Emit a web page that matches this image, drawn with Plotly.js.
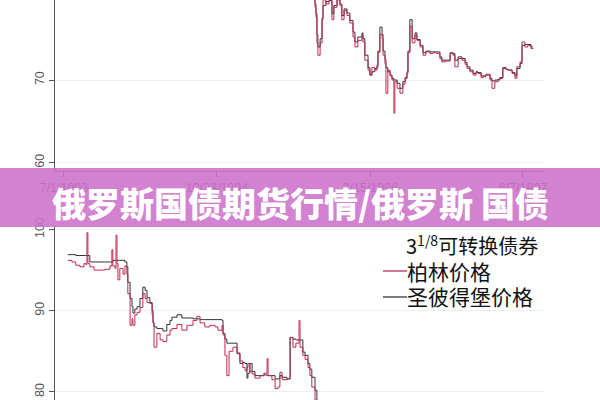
<!DOCTYPE html>
<html>
<head>
<meta charset="utf-8">
<script src="https://cdn.plot.ly/plotly-3.0.1.min.js"></script>
<style>html,body{margin:0;padding:0;background:#fff;overflow:hidden;}#chart{width:600px;height:403px;margin-top:-3px;}</style>
</head>
<body>
<div id="chart"></div>
<script>
// Bottom panel segment (1993-1995), values 80-100
const dates1 = ['1993-07-13','1993-07-26','1993-08-07','1993-08-20','1993-09-02','1993-09-08','1993-09-11','1993-09-14','1993-09-20','1993-10-03','1993-10-22','1993-11-06','1993-11-22','1993-11-28','1993-12-01','1993-12-08','1993-12-11','1993-12-14','1993-12-17','1993-12-23','1994-01-02','1994-01-08','1994-01-14','1994-01-17','1994-01-24','1994-01-30','1994-02-02','1994-02-08','1994-02-15','1994-02-24','1994-03-05','1994-03-12','1994-03-18','1994-03-27','1994-04-03','1994-04-06','1994-04-09','1994-04-18','1994-04-28','1994-05-07','1994-05-19','1994-05-29','1994-06-04','1994-06-20','1994-07-05','1994-07-21','1994-08-09','1994-08-21','1994-08-31','1994-09-15','1994-10-01','1994-10-17','1994-10-26','1994-11-08','1994-11-11','1994-11-17','1994-11-23','1994-11-30','1994-12-12','1994-12-25','1995-01-03','1995-01-12','1995-01-19','1995-01-25','1995-01-28','1995-02-03','1995-02-10','1995-02-19','1995-03-07','1995-03-19','1995-03-29','1995-04-01','1995-04-13','1995-04-23','1995-05-02','1995-05-08','1995-05-15','1995-05-30','1995-06-09','1995-06-18','1995-06-27','1995-07-07','1995-07-10','1995-07-19','1995-07-26','1995-08-04','1995-08-10','1995-08-16','1995-08-26','1995-09-01'];
const berlin1 = [96.2,96.0,95.6,95.4,95.8,95.7,99.6,95.8,95.4,95.0,95.0,95.1,95.5,97.5,95.5,95.2,99.3,95.8,93.8,95.2,94.5,95.5,94.5,92.1,88.2,89.0,88.2,89.5,89.8,90.4,92.1,91.5,91.0,90.9,89.5,88.5,85.5,87.2,86.4,86.2,87.0,87.6,87.8,88.3,87.6,88.2,88.8,89.3,88.5,88.0,88.2,88.0,87.6,88.2,87.0,84.5,82.0,85.0,85.5,84.8,83.8,83.0,82.6,83.0,83.5,82.5,82.2,81.7,82.0,82.3,84.1,82.0,81.5,80.4,80.6,82.4,81.5,81.6,86.7,85.5,86.0,88.8,85.5,84.5,84.0,83.0,82.0,80.6,79.0,78.0];
const stpete1 = [96.9,96.9,96.8,96.8,96.8,96.8,96.8,96.8,96.0,96.0,96.0,96.0,96.0,96.0,96.2,96.2,96.2,96.2,96.2,96.2,96.2,96.0,95.4,93.5,91.5,90.5,89.7,90.2,90.5,91.5,92.9,92.5,91.6,91.0,90.0,88.5,88.0,87.8,87.8,87.5,88.3,88.8,89.2,89.5,89.1,89.1,89.0,89.0,88.9,88.9,88.9,88.9,88.9,88.8,87.2,86.5,86.0,86.0,86.0,84.7,83.5,83.6,83.5,81.7,82.3,83.5,82.5,82.0,82.0,82.1,82.0,82.0,82.0,81.6,81.6,82.0,81.8,81.6,86.7,86.5,86.4,86.4,86.4,84.9,84.5,83.5,82.8,81.8,80.2,79.0];

// Top panel segment (1995-1997), values 60-80
const dates2 = ['1995-08-20','1995-08-26','1995-08-29','1995-09-01','1995-09-04','1995-09-11','1995-09-17','1995-09-20','1995-09-29','1995-10-09','1995-10-18','1995-10-24','1995-11-03','1995-11-12','1995-11-18','1995-11-25','1995-12-04','1995-12-13','1995-12-23','1995-12-29','1996-01-07','1996-01-20','1996-01-23','1996-01-29','1996-02-08','1996-02-14','1996-02-20','1996-02-29','1996-03-07','1996-03-10','1996-03-16','1996-03-23','1996-03-26','1996-04-01','1996-04-04','1996-04-10','1996-04-17','1996-04-23','1996-04-29','1996-05-02','1996-05-09','1996-05-18','1996-05-27','1996-06-03','1996-06-09','1996-06-12','1996-06-18','1996-06-25','1996-07-04','1996-07-10','1996-07-20','1996-07-29','1996-08-07','1996-08-20','1996-08-29','1996-09-11','1996-09-20','1996-09-26','1996-10-09','1996-10-22','1996-10-31','1996-11-06','1996-11-16','1996-11-28','1996-12-08','1996-12-14','1996-12-23','1997-01-02','1997-01-11','1997-01-17','1997-01-27','1997-02-02','1997-02-11','1997-02-24','1997-03-02','1997-03-11','1997-03-21','1997-03-27','1997-04-05','1997-04-15','1997-04-21','1997-05-04','1997-05-13','1997-05-19','1997-05-29','1997-06-04','1997-06-13','1997-06-22','1997-07-02','1997-07-08'];
const berlin2 = [80.5,78.8,77.6,74.5,73.0,74.5,77.3,79.7,79.2,79.8,77.3,78.8,79.8,79.0,77.3,78.4,77.8,76.9,75.2,74.0,74.8,75.4,74.6,72.4,71.2,70.6,71.5,71.2,71.5,73.3,75.5,75.0,73.0,72.0,68.4,71.2,70.5,70.0,66.0,69.8,69.0,68.4,69.5,70.2,70.8,73.3,76.5,74.5,75.4,74.8,74.0,73.0,73.4,73.2,73.3,73.2,72.6,72.2,72.3,73.2,73.0,71.6,72.6,72.4,71.9,71.4,71.0,70.6,70.9,70.8,70.3,70.4,70.7,70.0,69.0,69.8,70.0,70.2,71.4,71.3,71.2,70.8,70.2,71.6,72.2,74.6,74.0,74.2,73.8,73.9];
const stpete2 = [80.5,79.2,78.0,75.5,74.0,75.0,77.5,79.0,79.5,79.6,78.0,79.0,79.7,79.2,77.8,78.6,78.1,77.2,75.8,74.6,75.2,75.7,75.0,73.0,71.5,70.6,71.0,71.4,71.8,73.5,76.4,75.5,73.5,72.5,71.5,71.0,70.6,70.2,70.0,70.0,69.6,69.0,69.8,70.3,71.0,73.5,77.3,75.0,75.7,74.9,74.2,73.3,73.5,73.4,73.4,73.4,72.8,72.4,72.4,73.3,73.2,72.4,72.8,72.6,72.1,71.6,71.2,70.8,71.0,70.9,70.5,70.5,70.6,70.2,69.9,70.0,70.1,70.3,71.5,71.3,71.2,70.9,70.5,71.4,72.0,74.2,74.3,74.3,74.0,74.0];

const xTickVals = ['1993-07-01','1994-10-23','1996-02-15','1997-06-07'];
const yTicksTop = [60, 70, 80];
const yTicksBottom = [80, 90, 100];
const legendTitle = '3<sup>1/8</sup>可转换债券';
const seriesNames = ['柏林价格', '圣彼得堡价格'];
const bannerText = '俄罗斯国债期货行情/俄罗斯 国债';

const RED = '#c02a52';
const BLACK = '#333333';
const axisFont = {family: 'Liberation Sans, Arial, sans-serif', size: 12.5, color: '#555'};
const legendFont = {family: 'Noto Sans CJK SC', size: 21, color: '#111'};

// plot is 403 px tall, shifted up by 3 px; page y -> paper y
const H = 403;
const py = (pageY) => (400 - pageY) / H;

const traces = [
  {x: dates2, y: stpete2, xaxis: 'x', yaxis: 'y', mode: 'lines', line: {color: BLACK, width: 1, shape: 'hv'}, name: seriesNames[1], showlegend: false},
  {x: dates2, y: berlin2, xaxis: 'x', yaxis: 'y', mode: 'lines', line: {color: RED, width: 1, shape: 'hv'}, name: seriesNames[0], showlegend: false},
  {x: dates1, y: stpete1, xaxis: 'x2', yaxis: 'y2', mode: 'lines', line: {color: BLACK, width: 1, shape: 'hv'}, name: seriesNames[1], showlegend: false},
  {x: dates1, y: berlin1, xaxis: 'x2', yaxis: 'y2', mode: 'lines', line: {color: RED, width: 1, shape: 'hv'}, name: seriesNames[0], showlegend: false}
];

const baseY = {
  showline: true, linecolor: '#555', linewidth: 1, ticks: 'outside', ticklen: 5, tickcolor: '#555',
  showgrid: true, gridcolor: '#efefef', zeroline: false, tickangle: -90, tickfont: axisFont, fixedrange: true
};

const layout = {
  width: 600, height: H,
  margin: {l: 0, r: 0, t: 0, b: 0},
  paper_bgcolor: '#ffffff', plot_bgcolor: '#ffffff',
  showlegend: false,
  xaxis: {
    domain: [55/600, 545/600], anchor: 'y', type: 'date',
    range: ['1993-06-03', '1997-08-15'],
    tickvals: xTickVals, tickformat: '%-m/%-d/%Y',
    showline: true, linecolor: '#555', linewidth: 1, ticks: 'outside', ticklen: 5, tickcolor: '#555',
    showgrid: false, zeroline: false, tickfont: axisFont
  },
  yaxis: Object.assign({}, baseY, {domain: [py(171), 1], anchor: 'x', range: [59.0, 80.04], tickvals: yTicksTop}),
  xaxis2: {
    domain: [55/600, 545/600], anchor: 'y2', type: 'date', matches: 'x',
    showline: false, showgrid: false, zeroline: false, showticklabels: false, ticks: ''
  },
  yaxis2: Object.assign({}, baseY, {domain: [0, py(226)], anchor: 'x2', range: [79.0, 100.43], tickvals: yTicksBottom}),
  shapes: [
    {type: 'line', xref: 'paper', yref: 'paper', x0: 383/600, x1: 407/600, y0: py(271), y1: py(271),
     line: {color: RED, width: 1.3}},
    {type: 'line', xref: 'paper', yref: 'paper', x0: 383/600, x1: 407/600, y0: py(297), y1: py(297),
     line: {color: BLACK, width: 1.3}},
    {type: 'rect', xref: 'paper', yref: 'paper', x0: 0, x1: 1, y0: py(227), y1: py(168),
     fillcolor: 'rgb(205,111,203)', opacity: 0.88, line: {width: 0}, layer: 'above'}
  ],
  annotations: [
    {xref: 'paper', yref: 'paper', x: 0.5, y: py(203), xanchor: 'center', yanchor: 'middle', showarrow: false,
     text: bannerText, font: {family: 'Noto Sans CJK SC', size: 34, color: '#ffffff', weight: 900}},
    {xref: 'paper', yref: 'paper', x: 404/600, y: py(245), xanchor: 'left', yanchor: 'middle', showarrow: false,
     text: legendTitle, font: {family: 'Noto Sans CJK SC', size: 20, color: '#111'}},
    {xref: 'paper', yref: 'paper', x: 405/600, y: py(271), xanchor: 'left', yanchor: 'middle', showarrow: false,
     text: seriesNames[0], font: legendFont},
    {xref: 'paper', yref: 'paper', x: 405/600, y: py(296), xanchor: 'left', yanchor: 'middle', showarrow: false,
     text: seriesNames[1], font: legendFont}
  ]
};

Plotly.newPlot('chart', traces, layout, {staticPlot: true, displayModeBar: false});
</script>
</body>
</html>
